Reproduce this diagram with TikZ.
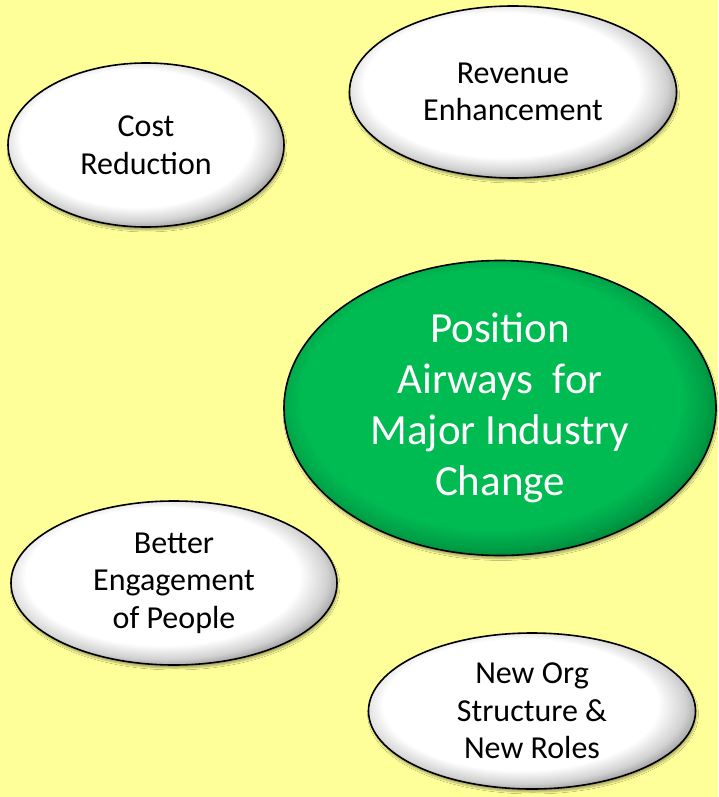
\documentclass[tikz,border=0pt]{standalone}
\usepackage{fontspec}
\setmainfont{Carlito}
\usetikzlibrary{shapes.geometric,shadows.blur}

\definecolor{paper}{RGB}{255,255,153}
\definecolor{goalgreen}{RGB}{0,186,82}
\definecolor{goaldark}{RGB}{0,125,50}

% white bubble: flat white face, grey bevel towards the lower right rim
\pgfdeclareradialshading{bubble}{\pgfpoint{-3bp}{3.5bp}}{%
  color(0bp)=(white); color(21bp)=(white); color(25bp)=(black!18);
  color(28bp)=(black!45); color(30bp)=(black!55); color(50bp)=(black!55)}
% green bubble: flat green face, darker rim
\pgfdeclareradialshading{greenbubble}{\pgfpoint{-2bp}{2.5bp}}{%
  color(0bp)=(goalgreen); color(22bp)=(goalgreen); color(25bp)=(goalgreen!85!black);
  color(27.5bp)=(goaldark); color(50bp)=(goaldark)}

\tikzset{
  idea/.style={ellipse, draw=black, line width=1.6pt, inner sep=0pt, outer sep=0pt,
    shading=bubble, align=center, font=\fontsize{32}{37.5}\selectfont,
    blur shadow={shadow xshift=1pt, shadow yshift=-3pt, shadow blur steps=6, shadow opacity=35}},
  goal/.style={ellipse, draw=black, line width=1.6pt, inner sep=0pt, outer sep=0pt,
    shading=greenbubble, align=center, text=white, font=\fontsize{43}{51}\selectfont,
    blur shadow={shadow xshift=1pt, shadow yshift=-3pt, shadow blur steps=6, shadow opacity=35}}
}

\begin{document}
\begin{tikzpicture}[x=1pt,y=-1pt]
  \fill[paper] (0,0) rectangle (718,797);
  \useasboundingbox (0,0) rectangle (718,797);

  \node[idea, minimum width=276pt, minimum height=164pt] (cost) at (146,145)
    {Cost\\Reduction};
  \node[idea, minimum width=327pt, minimum height=172pt] (revenue) at (513,92)
    {Revenue\\Enhancement};
  \node[goal, minimum width=432pt, minimum height=295pt] (goal) at (500,408)
    {Position\\Airways\ \ for\\Major Industry\\Change};
  \node[idea, minimum width=326pt, minimum height=164pt] (people) at (174,583)
    {Better\\Engagement\\of People};
  \node[idea, minimum width=327pt, minimum height=156pt] (org) at (532,711)
    {New Org\\Structure \&\\New Roles};
\end{tikzpicture}
\end{document}
